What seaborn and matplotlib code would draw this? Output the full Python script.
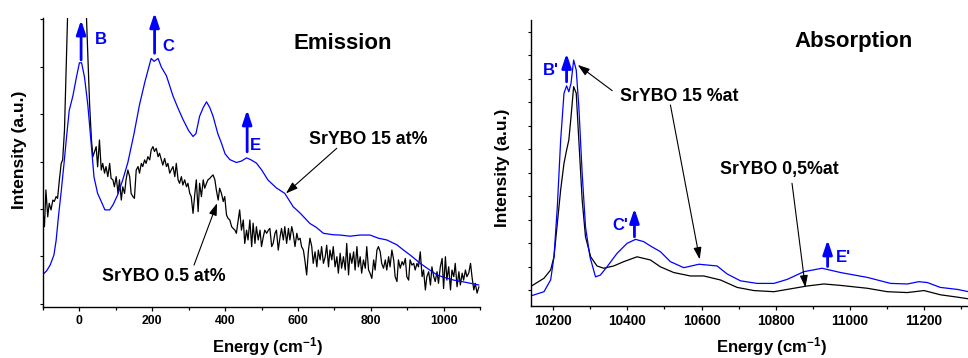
import numpy as np
import pandas as pd
import matplotlib
matplotlib.use('Agg')
import matplotlib.pyplot as plt
from matplotlib.ticker import MultipleLocator, FixedLocator, NullFormatter
import seaborn as sns

# ---------------- Emission data (cm^-1, arbitrary intensity) ----------------
em15_energy = [-101, -90, -80, -70, -64, -57, -50, -42, -36, -28, -18, -9, 0, 6, 14, 23, 32, 40, 50, 60,
               70, 83, 92, 105, 119, 133, 150, 165, 180, 197, 205, 216, 225, 239, 257, 270, 284, 300, 312, 320,
               330, 340, 349, 358, 367, 380, 390, 400, 413, 431, 445, 459, 470, 486, 500, 518, 541, 564, 587, 606,
               633, 651, 670, 697, 716, 743, 771, 798, 821, 844, 872, 890, 908, 936, 954, 982, 1000, 1028, 1050, 1074,
               1097]
em15_intensity = [11.2, 12.5, 14.6, 18, 23, 32, 40, 50, 58, 68, 73, 79, 84.5, 84.5, 79.5, 70, 57, 45, 39.3, 36.5,
                  33.6, 33.6, 35.3, 38.8, 44, 50, 60, 70, 78, 86, 85, 86, 83, 80, 73, 69, 65, 61, 59, 60,
                  66, 69, 71, 69, 66, 60, 56.7, 53, 51, 50, 50.5, 51.6, 51, 49.8, 47.5, 43.9, 41.2, 39.3, 34.7, 32.5,
                  28.9, 27.5, 25.5, 25, 24.9, 24.5, 24.9, 24.9, 23.8, 23.2, 21.5, 19.7, 18, 15.1, 13.5, 11.1, 10.3, 9.3, 8.8, 8.2,
                  7.6]

em05_energy = [-101, -96, -92, -87, -83, -78, -73, -69, -64, -60, -55, -50, -46, -41, -37, -32, -25, -15, -5, 5,
               13, 18, 23, 28, 33, 37, 46, 50, 55, 60, 64, 69, 73, 78, 83, 87, 92, 96, 101, 106,
               110, 115, 119, 124, 128, 133, 138, 142, 147, 151, 156, 161, 165, 170, 174, 179, 183, 188, 193, 197,
               202, 206, 211, 216, 220, 225, 229, 234, 239, 243, 248, 252, 257, 262, 266, 271, 275, 280, 284, 289,
               294, 298, 303, 307, 312, 317, 321, 326, 330, 335, 340, 344, 349, 353, 358, 362, 367, 372, 376, 381,
               385, 390, 395, 399, 404, 408, 413, 418, 422, 427, 431, 436, 440, 445, 450, 454, 459, 463, 468, 473,
               477, 482, 486, 491, 496, 500, 505, 509, 514, 519, 523, 528, 532, 537, 541, 546, 551, 555, 560, 564,
               569, 574, 578, 583, 587, 592, 597, 601, 606, 610, 615, 619, 624, 629, 633, 638, 642, 647, 652, 656,
               661, 665, 670, 675, 679, 684, 688, 693, 697, 702, 707, 711, 716, 720, 725, 730, 734, 739, 743, 748,
               753, 757, 762, 766, 771, 775, 780, 785, 789, 794, 798, 803, 808, 812, 817, 821, 826, 830, 835, 840,
               844, 849, 853, 858, 863, 867, 872, 876, 881, 886, 890, 895, 899, 904, 908, 913, 918, 922, 927, 931,
               936, 941, 945, 950, 954, 959, 964, 968, 973, 977, 982, 986, 991, 996, 1000, 1005, 1009, 1014, 1019, 1023,
               1028, 1032, 1037, 1042, 1046, 1051, 1055, 1060, 1064, 1069, 1074, 1078, 1083, 1087, 1092, 1097]
em05_intensity = [34.7, 27.8, 40.5, 31.2, 35.9, 33.6, 37.0, 36.5, 38.2, 37.6, 44.0, 49.7, 50.9, 61.2, 80, 103, 120, 134, 141, 138,
                  122, 105, 88, 70, 58, 52.0, 55.5, 48.5, 57.8, 47.4, 49.7, 46.3, 48.6, 45.1, 49.7, 44.5, 44.0, 41.6, 45.1, 39.3,
                  44.0, 37.0, 41.6, 39.3, 44.0, 47.4, 45.1, 39.3, 38.2, 37.6, 47.4, 48.6, 46.3, 49.7, 48.6, 50.9, 49.7, 52.0, 50.9, 54.3,
                  55.5, 53.8, 54.9, 52.0, 53.2, 50.9, 49.1, 51.4, 48.6, 49.7, 46.3, 47.4, 48.6, 45.1, 49.7, 44.0, 42.8, 45.1, 42.2, 44.0,
                  41.6, 42.8, 39.3, 38.2, 32.4, 39.3, 44.0, 33.0, 42.8, 38.2, 44.0, 41.1, 42.8, 44.0, 44.5, 45.1, 45.7, 44.0, 40.5, 37.0,
                  41.1, 39.3, 36.5, 38.2, 31.8, 30.7, 30.1, 27.8, 27.2, 26.6, 25.5, 30.1, 33.6, 26.6, 30.1, 22.0, 26.6, 23.2, 30.1, 20.9,
                  29.0, 22.0, 27.8, 23.2, 26.6, 20.9, 24.3, 26.6, 25.5, 26.6, 27.2, 20.9, 22.0, 25.5, 26.6, 19.7, 24.3, 27.2, 23.2, 27.8,
                  22.0, 27.2, 23.2, 27.8, 25.5, 20.9, 25.5, 23.2, 23.8, 20.9, 19.7, 16.3, 11.1, 19.7, 23.8, 20.9, 15.1, 19.1, 13.9, 19.7,
                  16.3, 20.9, 15.1, 17.4, 21.4, 13.9, 19.7, 16.3, 20.9, 13.9, 17.4, 11.7, 18.6, 13.4, 17.4, 12.8, 22.0, 11.1, 18.6, 15.1,
                  19.1, 12.8, 20.9, 13.9, 17.4, 11.7, 16.3, 13.4, 20.9, 12.8, 11.7, 9.9, 16.3, 12.8, 19.7, 20.9, 19.1, 15.1, 13.4, 16.3,
                  12.8, 17.4, 13.9, 19.7, 16.3, 10.5, 8.8, 16.3, 13.4, 15.7, 14.5, 16.8, 10.5, 9.3, 16.3, 14.5, 15.1, 12.8, 15.1, 13.9,
                  19.1, 10.5, 12.8, 5.9, 10.5, 12.2, 7.6, 13.9, 10.5, 8.8, 12.2, 8.2, 13.9, 16.8, 6.4, 17.4, 9.3, 13.9, 5.9, 12.8,
                  10.5, 15.1, 7.0, 12.2, 7.6, 11.7, 9.3, 12.8, 10.5, 11.7, 15.1, 10.5, 5.9, 8.2, 4.8, 7.0]

# ---------------- Absorption data ----------------
ab15_energy = [10139, 10175, 10193, 10202, 10211, 10220, 10229, 10236, 10242, 10248, 10255, 10262, 10269, 10278, 10287,
               10299, 10314, 10327, 10345, 10372, 10399, 10422, 10444, 10462, 10489, 10516, 10552, 10593, 10642, 10669,
               10705, 10750, 10795, 10831, 10876, 10925, 10975, 11047, 11110, 11155, 11186, 11209, 11244, 11290, 11320, 11340]
ab15_intensity = [3.5, 5.0, 9.1, 17.2, 34.7, 58, 74.4, 77, 74.9, 77.9, 86, 82.5, 69.7, 46.4, 27.7,
                  17.2, 10.2, 10.8, 13.7, 18.4, 21.9, 23.3, 22.5, 21, 19, 15.5, 13.4, 14.6, 14, 11.2,
                  8.8, 7.9, 7.9, 9.3, 12, 13.2, 11.7, 10, 7.9, 7.7, 8.5, 8.2, 6.5, 5.8, 5.0, 4.8]

ab05_energy = [10139, 10175, 10193, 10202, 10211, 10220, 10229, 10236, 10242, 10248, 10255, 10262, 10269, 10278, 10287,
               10301, 10318, 10336, 10363, 10390, 10426, 10462, 10489, 10525, 10570, 10606, 10651, 10696, 10741, 10795,
               10831, 10885, 10930, 10975, 11047, 11101, 11155, 11200, 11245, 11290, 11320, 11340]
ab05_intensity = [6.8, 9.7, 12.6, 17.2, 28.9, 40.6, 49.9, 54.5, 58, 66.2, 76.7, 74.4, 58, 37.1, 24.2,
                  17.2, 14, 13.2, 14, 15.5, 17.2, 16.1, 13.7, 11.7, 10.5, 10.5, 9.1, 6.5, 5.4, 5,
                  5.8, 7, 7.7, 7.2, 6.2, 5, 4.7, 5.4, 3.9, 3.1, 2.5, 2.3]

em_tick_labels = [0, 200, 400, 600, 800, 1000]
ab_tick_labels = [10200, 10400, 10600, 10800, 11000, 11200]

BLUE = '#0000ff'

sns.set_theme(style='ticks', rc={'axes.edgecolor': 'black', 'text.color': 'black',
                                 'axes.labelcolor': 'black', 'xtick.color': 'black',
                                 'ytick.color': 'black'})
plt.rcParams['font.family'] = ['Liberation Sans', 'DejaVu Sans']
plt.rcParams['font.weight'] = 'bold'
plt.rcParams['axes.labelweight'] = 'bold'
plt.rcParams['mathtext.fontset'] = 'custom'
plt.rcParams['mathtext.rm'] = 'Liberation Sans:bold'
plt.rcParams['mathtext.bf'] = 'Liberation Sans:bold'
plt.rcParams['mathtext.it'] = 'Liberation Sans:bold'
plt.rcParams['mathtext.default'] = 'bf'

fig = plt.figure(figsize=(9.68, 3.58), dpi=100)
ax1 = fig.add_axes([0.04442, 0.14246, 0.45145, 0.80726])
ax2 = fig.add_axes([0.54855, 0.14525, 0.49793, 0.79888])

def curve(ax, xs, ys, color):
    df = pd.DataFrame({'E': xs, 'I': ys})
    sns.lineplot(data=df, x='E', y='I', ax=ax, color=color, lw=0.9,
                 sort=False, estimator=None)

curve(ax1, em05_energy, em05_intensity, 'black')
curve(ax1, em15_energy, em15_intensity, BLUE)
curve(ax2, ab05_energy, ab05_intensity, 'black')
curve(ax2, ab15_energy, ab15_intensity, BLUE)

def style(ax, xlim, ylim, majors, yticks, fs):
    ax.set_xlim(*xlim)
    ax.set_ylim(*ylim)
    for s in ('top', 'right'):
        ax.spines[s].set_visible(False)
    for s in ('left', 'bottom'):
        ax.spines[s].set_linewidth(1.0)
    ax.xaxis.set_major_locator(FixedLocator(majors))
    ax.xaxis.set_minor_locator(MultipleLocator(100))
    ax.yaxis.set_major_locator(FixedLocator(yticks))
    ax.yaxis.set_major_formatter(NullFormatter())
    ax.tick_params(axis='x', which='major', direction='out', length=3, width=0.9,
                   pad=2.5, labelsize=fs)
    ax.tick_params(axis='x', which='minor', direction='out', length=2.5, width=0.9)
    ax.tick_params(axis='y', which='major', direction='out', length=2, width=0.8,
                   labelleft=False)
    for lab in ax.get_xticklabels():
        lab.set_fontweight('bold')

style(ax1, (-100, 1100), (0, 100), em_tick_labels, np.arange(1.1, 100, 16.4), 8.8)
style(ax2, (10140, 11440), (0, 100), ab_tick_labels, np.arange(5.6, 100, 8.2), 9.8)

xlab = r'Energy (cm$^{\mathbf{-1}}$)'
ax1.set_xlabel(xlab, fontsize=12, fontweight='bold')
ax2.set_xlabel(xlab, fontsize=12, fontweight='bold')
ax1.set_ylabel('Intensity (a.u.)', fontsize=12.5, fontweight='bold')
ax2.set_ylabel('Intensity (a.u.)', fontsize=12.5, fontweight='bold')
ax1.xaxis.set_label_coords(0.513, -0.097)
ax2.xaxis.set_label_coords(0.5, -0.102)
ax1.yaxis.set_label_coords(-0.036, 0.543)
ax2.yaxis.set_label_coords(-0.043, 0.483)

def blue_arrow(ax, x, y0, y1):
    ax.annotate('', xy=(x, y1), xytext=(x, y0), annotation_clip=False,
                arrowprops=dict(arrowstyle='-|>,head_length=0.6,head_width=0.2',
                                color=BLUE, lw=2.0, mutation_scale=14,
                                shrinkA=0, shrinkB=0))

def black_arrow(ax, tail, tip):
    ax.annotate('', xy=tip, xytext=tail, annotation_clip=False,
                arrowprops=dict(arrowstyle='-|>,head_length=0.6,head_width=0.2',
                                color='black', lw=0.8, mutation_scale=12,
                                shrinkA=0, shrinkB=0))

def label(ax, x, y, s, color='black', fs=12.8):
    ax.text(x, y, s, color=color, fontsize=fs, fontweight='bold',
            ha='center', va='center', clip_on=False)

# Emission annotations
label(ax1, 724, 91.3, 'Emission', fs=16)
label(ax1, 59.7, 92.4, 'B', BLUE, 12)
label(ax1, 243, 90.1, 'C', BLUE, 12)
label(ax1, 482, 55.8, 'E', BLUE, 12)
blue_arrow(ax1, 4.6, 85.5, 99.3)
blue_arrow(ax1, 206.4, 87.8, 101.8)
blue_arrow(ax1, 460.6, 53.7, 68.2)
label(ax1, 793, 58.1, 'SrYBO 15 at%')
label(ax1, 231, 10.4, 'SrYBO 0.5 at%')
black_arrow(ax1, (706.5, 54.9), (567, 39.3))
black_arrow(ax1, (314.7, 14.5), (378, 35.9))

# Absorption annotations
label(ax2, 11010, 92.4, 'Absorption', fs=16)
label(ax2, 10193, 82.3, "B'", BLUE, 12)
label(ax2, 10381, 28.3, "C'", BLUE, 12)
label(ax2, 10983, 16.9, "E'", BLUE, 12)
blue_arrow(ax2, 10236, 78.4, 88.3)
blue_arrow(ax2, 10419, 24.2, 34.1)
blue_arrow(ax2, 10940, 13.8, 23.1)
label(ax2, 10539, 73.2, 'SrYBO 15 %at')
label(ax2, 10809, 47.6, 'SrYBO 0,5%at')
black_arrow(ax2, (10359, 75.3), (10266, 84.3))
black_arrow(ax2, (10516, 70.3), (10595, 16.3))
black_arrow(ax2, (10844, 42.9), (10880, 6.5))

fig.savefig('out.png', dpi=100)
